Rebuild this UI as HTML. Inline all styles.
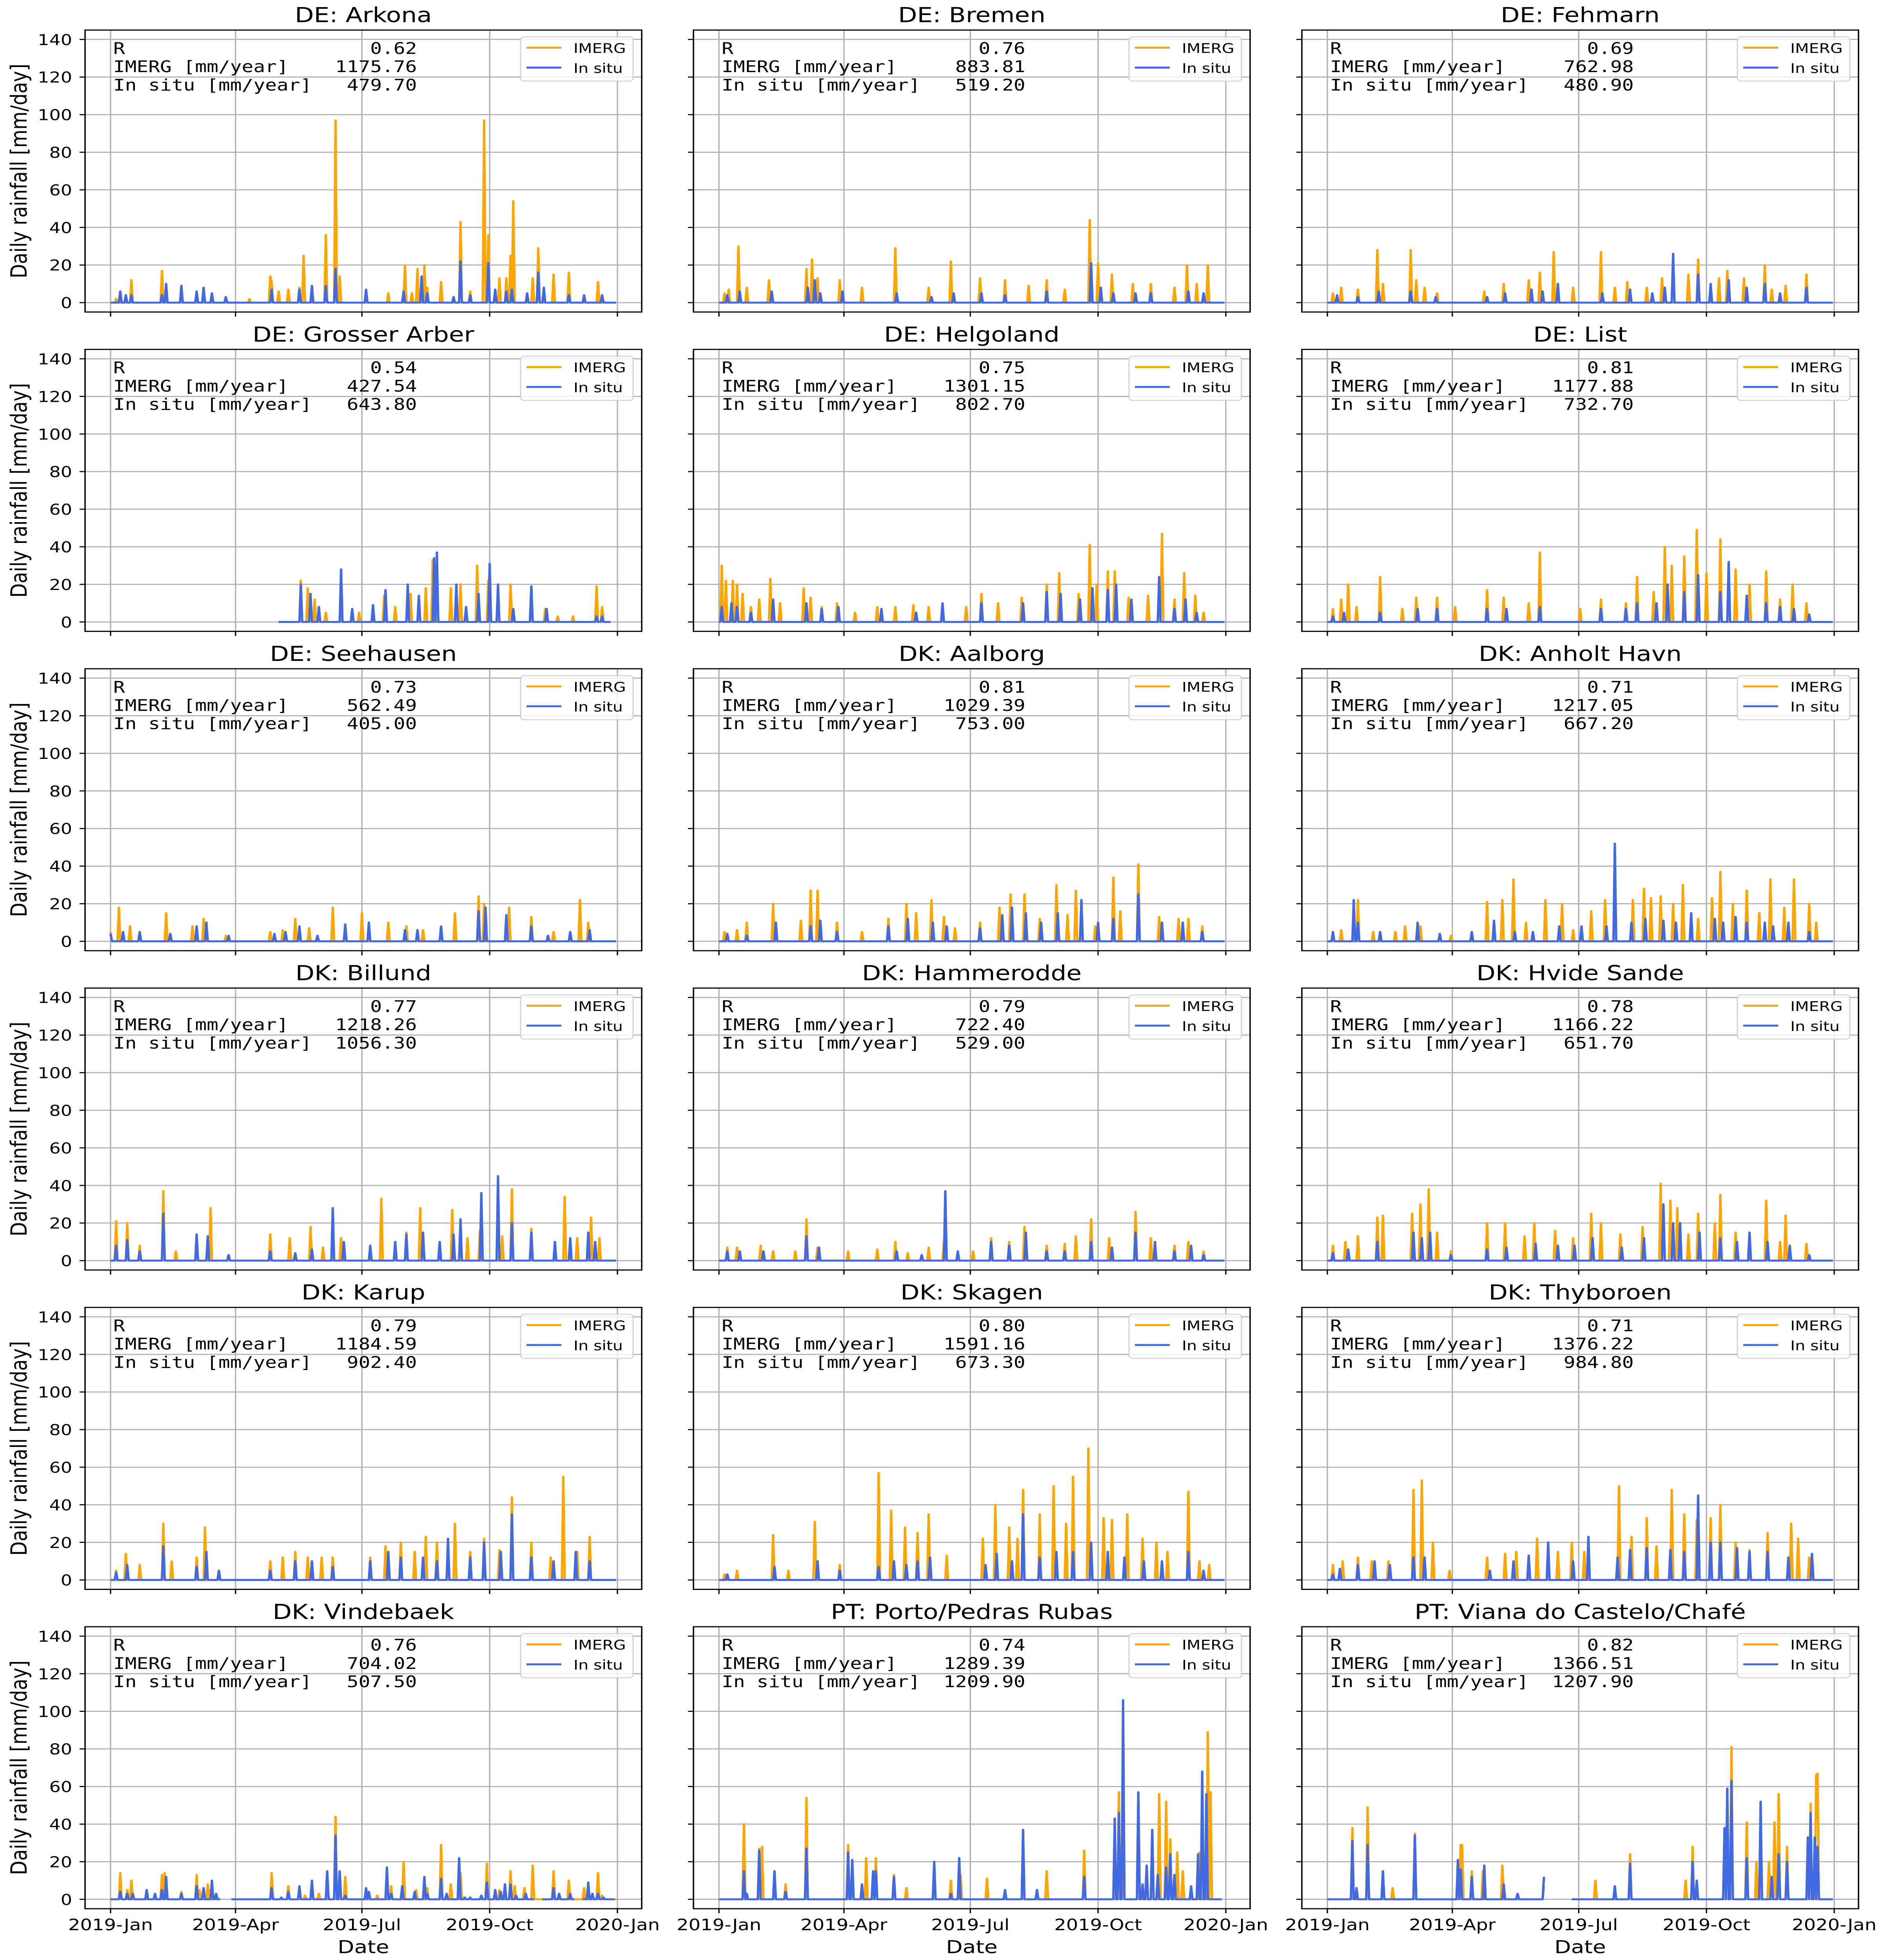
<!DOCTYPE html>
<html><head><meta charset="utf-8"><style>
html,body{margin:0;padding:0;background:#fff;overflow:hidden;}
svg{display:block;width:100vw;height:100vh;}
text{font-family:"DejaVu Sans","Liberation Sans",sans-serif;}
.mono{font-family:"DejaVu Sans Mono","Liberation Mono",monospace;white-space:pre;}
</style></head><body>
<svg id="fig" xmlns="http://www.w3.org/2000/svg" viewBox="0 0 4806 5999" preserveAspectRatio="none"></svg>
<script>
const stationNames = ["DE: Arkona","DE: Bremen","DE: Fehmarn","DE: Grosser Arber","DE: Helgoland","DE: List","DE: Seehausen","DK: Aalborg","DK: Anholt Havn","DK: Billund","DK: Hammerodde","DK: Hvide Sande","DK: Karup","DK: Skagen","DK: Thyboroen","DK: Vindebaek","PT: Porto/Pedras Rubas","PT: Viana do Castelo/Chafé"];
const rValues = ["0.62","0.76","0.69","0.54","0.75","0.81","0.73","0.81","0.71","0.77","0.79","0.78","0.79","0.80","0.71","0.76","0.74","0.82"];
const imergAnnual = ["1175.76","883.81","762.98","427.54","1301.15","1177.88","562.49","1029.39","1217.05","1218.26","722.40","1166.22","1184.59","1591.16","1376.22","704.02","1289.39","1366.51"];
const insituAnnual = ["479.70","519.20","480.90","643.80","802.70","732.70","405.00","753.00","667.20","1056.30","529.00","651.70","902.40","673.30","984.80","507.50","1209.90","1207.90"];
const yTicks = [0,20,40,60,80,100,120,140];
const xTickDays = [0,90,181,273,365];
const xTickLabels = ["2019-Jan","2019-Apr","2019-Jul","2019-Oct","2020-Jan"];
// flat [day, mm/day, day, mm/day, ...]
const imergSpikes = [
[4,2,15,12,37,17,100,2,115,14,116,11,121,6,128,7,136,8,139,25,155,36,162,97,165,14,200,5,212,20,217,5,221,18,226,20,228,8,238,11,252,43,259,6,269,97,272,36,280,13,285,13,288,25,290,54,304,13,308,29,319,15,330,16,351,11],
[4,5,7,7,14,30,20,8,36,12,63,18,67,23,71,13,87,12,103,8,127,29,151,8,167,22,188,13,206,12,223,9,236,12,249,7,267,44,273,21,283,15,298,10,311,10,328,8,337,20,344,10,352,20],
[4,5,10,8,22,7,36,28,40,10,60,28,64,12,70,8,79,5,113,6,127,10,145,12,153,16,163,27,177,8,197,27,207,8,216,11,230,8,241,13,260,15,267,23,282,13,288,17,300,13,315,20,320,7,330,9,345,15],
[137,22,142,18,147,12,155,5,166,20,179,5,197,14,205,8,216,15,227,18,232,33,245,18,252,20,264,30,272,22,288,20,303,18,313,7,322,3,333,3,350,19,354,8],
[2,30,5,22,10,22,13,20,17,15,23,8,29,12,37,23,44,10,61,18,66,13,74,8,85,10,98,5,114,8,127,8,140,9,151,8,161,10,178,8,189,15,201,10,218,13,236,20,245,26,259,15,267,41,272,20,280,27,285,27,295,13,309,14,319,47,328,12,335,26,343,14,349,5],
[4,7,10,12,15,20,21,8,38,24,54,7,64,13,79,13,92,8,115,17,127,13,145,10,153,37,182,7,197,12,215,10,223,24,235,16,243,40,248,30,257,35,266,49,273,26,283,44,294,28,304,20,316,27,326,12,335,20,345,10],
[0,5,6,18,14,8,21,5,40,15,59,8,67,12,83,3,115,5,124,6,133,12,143,7,160,18,181,15,200,10,213,8,225,6,248,15,265,24,269,20,287,18,303,13,319,5,338,22,344,10],
[4,5,13,6,20,10,39,20,59,11,66,27,71,27,85,10,103,5,122,12,135,20,142,15,153,22,162,13,170,7,188,10,202,18,210,25,220,25,231,12,243,30,251,14,257,27,271,8,284,34,289,16,302,41,317,13,331,12,338,12,348,8],
[4,5,10,6,22,22,33,5,49,5,56,8,67,8,89,3,115,21,126,22,134,33,143,10,157,22,169,20,177,6,190,16,200,22,220,22,228,28,233,23,240,24,249,20,256,30,267,12,277,23,283,37,292,20,302,27,311,15,319,33,329,18,336,33,347,20,352,10],
[4,21,12,20,21,8,38,37,47,5,62,12,72,28,85,3,115,14,129,12,144,18,153,7,166,12,195,33,205,10,213,15,223,28,237,10,246,27,257,12,266,16,282,13,289,38,303,17,327,34,336,12,346,23,352,12],
[6,7,13,7,30,8,39,5,55,5,63,22,71,7,93,5,114,6,127,10,136,4,151,7,162,10,183,5,196,12,209,10,220,18,236,8,249,9,257,13,268,22,281,12,300,26,311,12,328,8,338,10,349,5],
[4,8,13,10,22,13,36,23,40,24,61,25,67,30,73,38,79,15,89,5,115,20,128,20,142,13,149,20,164,16,177,12,190,25,197,20,211,14,227,18,240,41,247,32,252,28,260,14,267,25,279,20,283,35,294,15,304,5,316,32,326,10,330,24,345,9],
[4,5,11,14,21,8,38,30,44,10,62,12,68,28,78,5,115,10,124,12,133,15,142,12,152,12,160,12,187,12,198,18,209,20,219,15,227,23,235,20,248,30,259,15,269,22,280,16,289,44,303,20,317,12,326,55,336,15,345,23],
[4,3,13,5,39,24,50,5,69,31,87,8,115,57,124,37,134,28,143,25,151,35,164,13,190,22,199,40,209,28,215,22,219,48,231,35,241,50,250,30,255,55,266,70,277,33,283,32,294,35,305,22,315,20,323,15,338,47,346,10,353,8],
[4,8,11,10,22,12,32,10,44,10,62,48,68,53,76,20,88,5,115,12,128,14,136,15,151,22,166,15,176,20,185,15,210,50,219,23,230,33,237,18,248,48,257,35,266,32,276,33,283,40,294,20,304,16,317,25,334,30,339,22,347,12],
[7,14,12,5,15,10,37,13,39,14,51,4,62,13,64,5,70,8,72,5,116,14,128,7,140,2,150,3,162,44,169,12,192,2,202,7,211,20,220,5,228,6,238,29,245,8,252,14,271,19,280,5,288,15,291,7,298,6,304,18,319,15,330,10,341,6,351,14,354,2],
[18,40,29,27,31,28,40,14,48,8,63,54,93,29,96,20,106,22,113,22,126,13,135,6,167,10,174,13,193,11,219,17,236,15,263,26,285,43,288,57,291,27,302,56,312,37,317,56,322,52,325,32,330,25,334,15,346,25,352,89,354,57],
[18,38,29,49,40,14,47,6,63,35,94,20,96,29,97,29,104,15,112,15,126,18,156,7,193,10,218,24,258,10,263,28,288,45,291,81,302,41,309,20,318,20,322,41,325,56,331,28,346,21,348,51,352,66,353,67]
];
const insituSpikes = [
[7,6,11,4,15,4,37,4,40,10,51,9,62,6,67,8,73,5,83,3,116,7,136,7,145,9,155,9,162,18,184,7,211,6,224,14,228,5,247,3,252,22,259,4,272,21,277,7,285,6,289,7,300,5,308,16,312,8,330,4,341,4,354,4],
[6,4,15,6,38,6,64,8,69,12,73,5,89,6,128,5,153,3,169,5,189,5,206,4,236,6,268,21,275,8,284,5,300,5,311,5,338,6,349,5],
[7,4,22,3,37,6,60,6,78,3,115,3,128,5,147,7,155,6,166,10,198,5,218,7,234,5,243,8,249,26,267,15,276,10,289,12,302,8,315,10,326,5,345,8],
[137,20,144,15,150,8,166,28,174,7,189,9,198,17,214,20,222,14,233,34,235,37,249,20,256,8,265,15,273,31,279,20,290,7,303,19,314,7,350,3,354,3],
[2,8,9,10,13,8,23,5,39,12,63,10,74,7,86,8,117,7,142,5,161,10,189,10,219,10,236,16,246,15,260,12,269,18,280,17,286,20,297,12,317,24,328,7,336,12,344,5],
[4,3,12,5,38,5,65,7,79,7,115,7,129,7,153,8,197,7,215,7,223,10,237,10,245,20,257,16,267,25,283,16,289,32,302,14,316,10,326,8,336,7,347,4],
[0,4,9,5,21,5,43,4,62,8,69,10,85,3,118,4,126,5,136,8,149,3,169,9,186,10,212,6,221,6,238,8,265,16,270,18,285,14,303,8,315,3,331,5,345,6],
[6,4,20,3,41,10,66,8,73,11,85,5,122,8,136,12,154,10,164,8,188,7,204,14,211,18,221,15,232,10,244,15,261,22,273,10,284,12,302,25,319,10,334,10,348,5],
[4,5,19,22,22,10,38,5,65,10,81,4,104,5,120,11,135,5,148,5,167,8,183,8,201,8,207,52,219,10,229,12,242,11,251,10,262,15,279,12,285,10,294,13,302,10,315,10,321,8,332,10,347,5],
[4,8,12,11,21,5,38,25,62,14,70,13,85,3,115,5,133,4,145,6,160,28,168,10,187,8,205,10,213,14,225,15,237,10,247,14,252,22,267,36,279,45,289,20,303,15,320,10,331,12,344,15,349,10],
[6,5,15,5,32,5,63,13,72,7,128,5,146,3,163,37,172,5,196,10,209,8,221,15,236,5,249,5,268,10,283,7,300,15,314,10,328,5,340,8,349,3],
[4,4,15,6,36,10,62,15,68,12,74,15,89,3,115,6,129,7,150,9,166,8,178,8,191,12,212,7,228,12,242,30,249,20,254,20,268,15,283,12,295,10,304,15,317,10,333,8,347,3],
[4,4,12,8,38,18,62,7,69,15,78,5,115,5,133,10,145,10,160,7,187,10,200,15,209,12,225,12,235,10,243,22,259,12,269,20,281,15,289,35,303,12,319,10,335,15,345,10],
[6,3,40,7,71,10,87,5,115,7,126,10,135,8,143,10,152,12,192,8,200,14,211,10,219,35,231,12,243,15,255,15,268,20,280,15,292,12,306,10,319,10,338,15,349,5],
[4,3,9,6,22,8,34,10,45,8,62,12,70,12,117,5,134,10,145,13,159,20,177,10,188,23,209,12,218,16,230,17,247,16,257,15,267,45,276,20,283,20,295,17,304,15,317,15,332,12,349,14],
[7,4,12,3,16,3,26,5,32,3,37,5,40,12,51,3,62,7,67,6,73,10,76,3,116,6,123,1,128,4,136,7,145,10,156,15,162,34,165,15,169,2,184,6,186,4,199,17,202,3,210,7,219,4,226,12,228,3,238,11,242,3,251,22,255,1,259,1,267,2,271,9,277,5,281,4,284,8,288,8,292,2,299,3,319,6,323,3,331,3,344,9,347,3,351,3,355,1],
[18,15,20,3,29,26,40,15,48,4,63,27,93,25,96,21,103,8,111,15,113,15,126,12,155,20,167,3,173,22,206,5,219,37,229,5,263,12,285,43,288,46,291,106,302,57,305,8,308,18,312,37,316,13,322,17,325,24,328,13,340,7,345,24,348,68,351,56],
[18,31,21,6,29,29,40,15,63,34,94,21,96,16,104,12,113,18,127,8,137,3,156,12,207,7,218,19,263,20,266,10,286,38,288,59,291,63,302,22,312,52,320,12,325,24,331,20,346,33,348,46,351,33,353,28]
];
const imergRanges = [[[0,364]],[[0,364]],[[0,364]],[[121,360]],[[0,364]],[[0,364]],[[0,364]],[[0,364]],[[0,364]],[[0,364]],[[0,364]],[[0,364]],[[0,364]],[[0,364]],[[0,364]],[[0,79],[87,364]],[[0,362]],[[0,156],[176,364]]];
const insituRanges = [[[0,364]],[[0,364]],[[0,364]],[[121,360]],[[0,364]],[[0,364]],[[0,364]],[[0,364]],[[0,364]],[[0,364]],[[0,364]],[[0,364]],[[0,364]],[[0,364]],[[0,364]],[[0,79],[87,305],[311,334],[340,363]],[[0,362]],[[0,156],[176,364]]];

const NS = "http://www.w3.org/2000/svg";
const svg = document.getElementById("fig");
const colX = [217, 1769, 3321];
const AXW = 1420, AXH = 863, ROW0 = 92, ROWSTEP = 977.4;
const YMIN = -5, YMAX = 145, XMIN = -18.35, XMAX = 382.5;
function mk(tag, attrs, parent) {
  const e = document.createElementNS(NS, tag);
  for (const k in attrs) e.setAttribute(k, attrs[k]);
  (parent || svg).appendChild(e);
  return e;
}
stationNames.forEach((name, i) => {
  const col = i % 3, row = Math.floor(i / 3);
  const L = colX[col], T = ROW0 + row * ROWSTEP, R = L + AXW, B = T + AXH;
  const xs = d => L + (d - XMIN) / (XMAX - XMIN) * AXW;
  const ys = v => B - (v - YMIN) / (YMAX - YMIN) * AXH;
  const g = mk("g", {});
  
  
  yTicks.forEach(t => {
    const ln = mk("line", {x1: L, x2: R, y1: ys(t), y2: ys(t), stroke: "#b0b0b0", "stroke-width": 3.3}, g);
    
    
    const tk = mk("line", {x1: L - 14, x2: L, y1: ys(t), y2: ys(t), stroke: "#000", "stroke-width": 3.3}, g);
    
    
    if (col === 0) {
      const tl = mk("text", {x: L - 33, y: ys(t) + 17, "text-anchor": "end", "font-size": 46}, g);
      tl.textContent = t;
      
      
    }
  });
  xTickDays.forEach((d, k) => {
    const ln = mk("line", {x1: xs(d), x2: xs(d), y1: T, y2: B, stroke: "#b0b0b0", "stroke-width": 3.3}, g);
    
    
    const tk = mk("line", {x1: xs(d), x2: xs(d), y1: B, y2: B + 14, stroke: "#000", "stroke-width": 3.3}, g);
    
    
    if (row === 5) {
      const tl = mk("text", {x: xs(d), y: B + 66, "text-anchor": "middle", "font-size": 48}, g);
      tl.textContent = xTickLabels[k];
      
      
    }
  });
  const drawSeries = (spikes, ranges, color, nm) => {
    const m = {};
    for (let k = 0; k < spikes.length; k += 2) m[spikes[k]] = spikes[k + 1];
    let dstr = "";
    ranges.forEach(([s, e]) => {
      for (let d = s; d <= e; d++) {
        const v = m[d] || 0;
        dstr += (d === s ? "M" : "L") + xs(d).toFixed(1) + " " + ys(v).toFixed(1);
      }
    });
    const p = mk("path", {d: dstr, fill: "none", stroke: color, "stroke-width": 6, "stroke-linejoin": "round"}, g);
    
    
  };
  drawSeries(imergSpikes[i], imergRanges[i], "#ffa500", "imerg-line");
  drawSeries(insituSpikes[i], insituRanges[i], "#4169e1", "insitu-line");
  const fr = mk("rect", {x: L, y: T, width: AXW, height: AXH, fill: "none", stroke: "#000", "stroke-width": 3.5}, g);
  
  
  const ti = mk("text", {x: L + AXW / 2, y: T - 24, "text-anchor": "middle", "font-size": 63}, g);
  ti.textContent = name;
  
  
  const lines = [["R", rValues[i]], ["IMERG [mm/year]", imergAnnual[i]], ["In situ [mm/year]", insituAnnual[i]]];
  lines.forEach((pair, k) => {
    const s = pair[0].padEnd(26 - pair[1].length, " ") + pair[1];
    const st = mk("text", {x: L + 72, y: T + 73 + k * 56, "font-size": 49.5, "class": "mono"}, g);
    st.textContent = s;
    
    
  });
  const lg = mk("g", {}, g);
  
  
  mk("rect", {x: R - 309, y: T + 21, width: 287, height: 135, rx: 9, fill: "rgba(255,255,255,0.8)", stroke: "rgba(204,204,204,0.8)", "stroke-width": 3.3}, lg);
  const l1 = mk("line", {x1: R - 294, x2: R - 205, y1: T + 54, y2: T + 54, stroke: "#ffa500", "stroke-width": 6}, lg);
  
  
  const t1 = mk("text", {x: R - 174, y: T + 70, "font-size": 41}, lg);
  t1.textContent = "IMERG";
  
  
  const l2 = mk("line", {x1: R - 294, x2: R - 205, y1: T + 115, y2: T + 115, stroke: "#4169e1", "stroke-width": 6}, lg);
  
  
  const t2 = mk("text", {x: R - 174, y: T + 131, "font-size": 41}, lg);
  t2.textContent = "In situ";
  
  
  if (col === 0) {
    const cy = T + AXH / 2;
    const yl = mk("text", {x: 0, y: 0, "text-anchor": "middle", "font-size": 57, transform: "translate(68," + cy + ") rotate(-90)"}, g);
    yl.textContent = "Daily rainfall [mm/day]";
    
    
  }
  if (row === 5) {
    const xl = mk("text", {x: L + AXW / 2, y: 5978, "text-anchor": "middle", "font-size": 55}, g);
    xl.textContent = "Date";
    
    
  }
});
</script>
</body></html>
